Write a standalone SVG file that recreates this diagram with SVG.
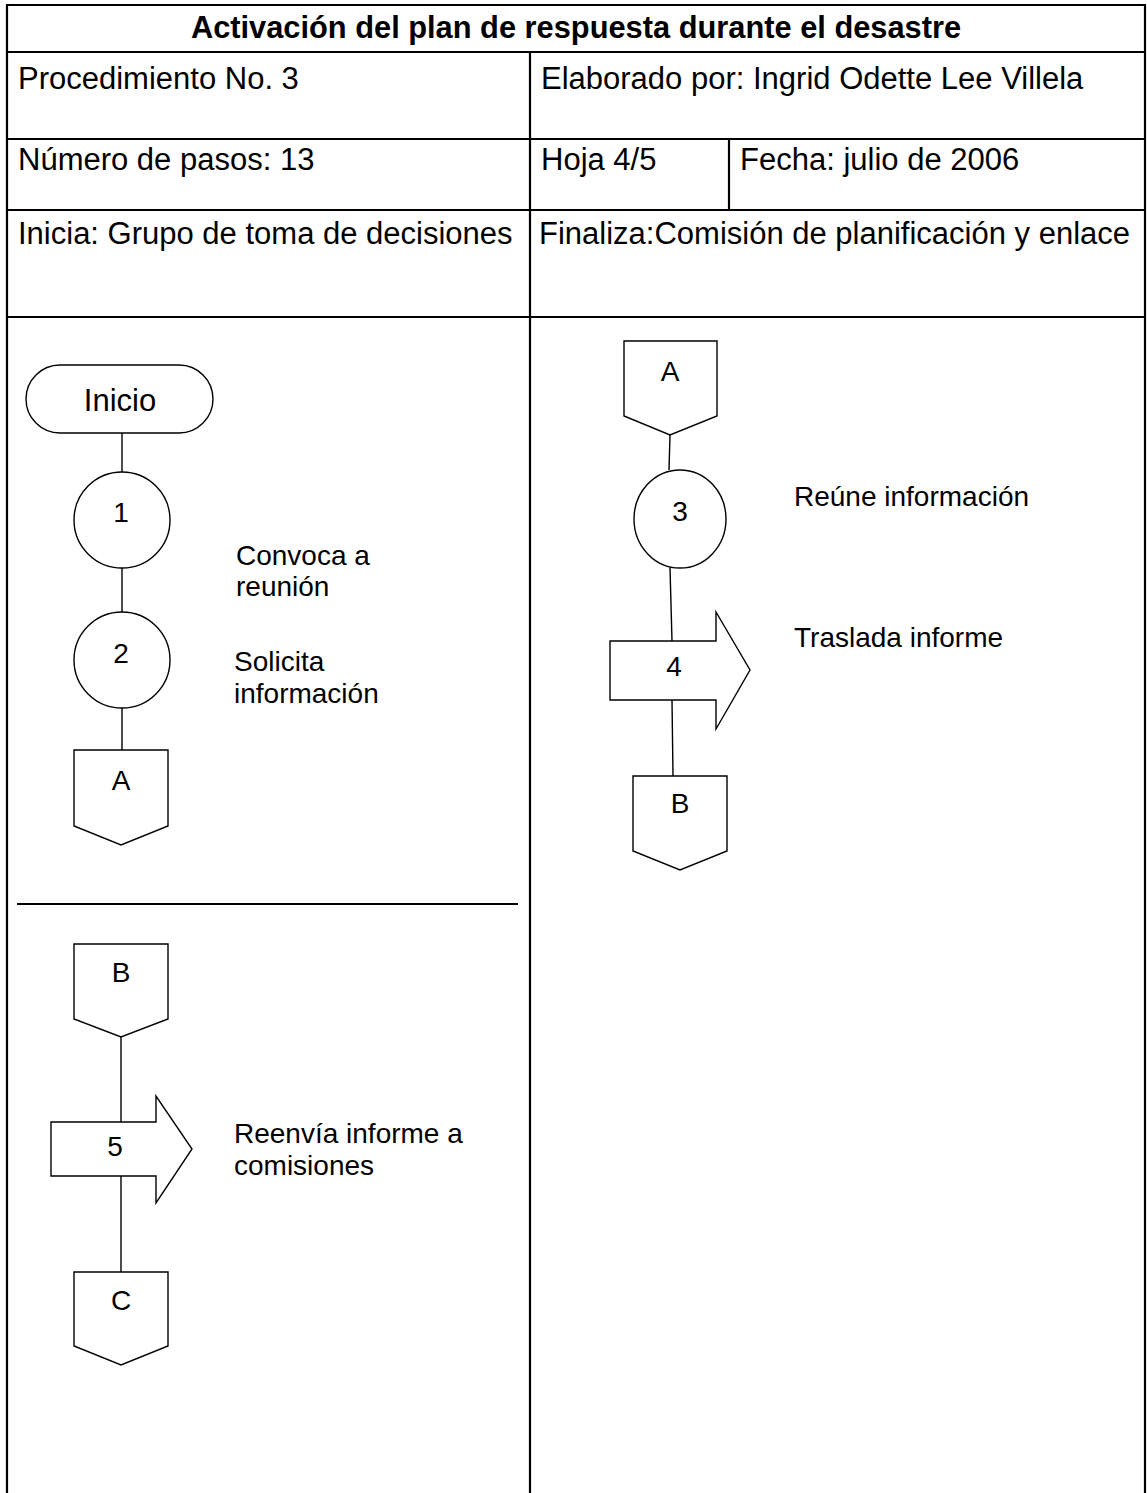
<svg xmlns="http://www.w3.org/2000/svg" width="1147" height="1493" viewBox="0 0 1147 1493">
<style>
.grid{stroke:#000;stroke-width:2.2;fill:none}
.shape{stroke:#000;stroke-width:1.4;fill:#fff}
.conn{stroke:#000;stroke-width:1.4;fill:none}
.hd{font-family:"Liberation Sans",Arial,sans-serif;font-size:31px;fill:#000}
.title{font-family:"Liberation Sans",Arial,sans-serif;font-size:30.8px;font-weight:bold;fill:#000}
.lbl{font-family:"Liberation Sans",Arial,sans-serif;font-size:28px;fill:#000}
.big{font-family:"Liberation Sans",Arial,sans-serif;font-size:31px;fill:#000}
.c{text-anchor:middle}
</style>
<rect width="1147" height="1493" fill="#fff"/>
<g id="table">
<line class="grid" x1="7" y1="5" x2="7" y2="1493"/>
<line class="grid" x1="1145" y1="5" x2="1145" y2="1493"/>
<line class="grid" x1="6" y1="5" x2="1146" y2="5"/>
<line class="grid" x1="6" y1="52" x2="1146" y2="52"/>
<line class="grid" x1="6" y1="139" x2="1146" y2="139"/>
<line class="grid" x1="6" y1="210" x2="1146" y2="210"/>
<line class="grid" x1="6" y1="317" x2="1146" y2="317"/>
<line class="grid" x1="530" y1="52" x2="530" y2="1493"/>
<line class="grid" x1="729" y1="139" x2="729" y2="210"/>
<text class="title c" x="576" y="38">Activación del plan de respuesta durante el desastre</text>
<text class="hd" x="18" y="89">Procedimiento No. 3</text>
<text class="hd" x="541" y="89">Elaborado por: Ingrid Odette Lee Villela</text>
<text class="hd" x="18" y="170">Número de pasos: 13</text>
<text class="hd" x="541" y="170">Hoja 4/5</text>
<text class="hd" x="740" y="170">Fecha: julio de 2006</text>
<text class="hd" x="18" y="244">Inicia: Grupo de toma de decisiones</text>
<text class="hd" x="539" y="244">Finaliza:Comisión de planificación y enlace</text>
<line class="grid" x1="17" y1="904" x2="518" y2="904"/>
</g>
<g id="connectors">
<line class="conn" x1="122" y1="433" x2="122" y2="472"/>
<line class="conn" x1="122" y1="568" x2="122" y2="612"/>
<line class="conn" x1="122" y1="708" x2="122" y2="750"/>
<line class="conn" x1="670" y1="435" x2="669" y2="470"/>
<line class="conn" x1="670" y1="568" x2="672" y2="641"/>
<line class="conn" x1="672" y1="700" x2="673" y2="776"/>
<line class="conn" x1="121" y1="1037" x2="121" y2="1122"/>
<line class="conn" x1="121" y1="1176" x2="121" y2="1272"/>
</g>
<g id="inicio">
<rect class="shape" x="26" y="365" width="187" height="68" rx="34" ry="34"/>
<text class="big c" x="120" y="411">Inicio</text>
</g>
<g id="step1">
<circle class="shape" cx="122" cy="520" r="48"/>
<text class="lbl c" x="121" y="522">1</text>
<text class="lbl" x="236" y="565">Convoca a</text>
<text class="lbl" x="236" y="596">reunión</text>
</g>
<g id="step2">
<circle class="shape" cx="122" cy="660" r="48"/>
<text class="lbl c" x="121" y="663">2</text>
<text class="lbl" x="234" y="671">Solicita</text>
<text class="lbl" x="234" y="703">información</text>
</g>
<g id="connA1">
<polygon class="shape" points="74,750 168,750 168,826 121,845 74,826"/>
<text class="lbl c" x="121" y="790">A</text>
</g>
<g id="connA2">
<polygon class="shape" points="624,341 717,341 717,416 670,435 624,416"/>
<text class="lbl c" x="670" y="381">A</text>
</g>
<g id="step3">
<ellipse class="shape" cx="680" cy="519" rx="46" ry="49"/>
<text class="lbl c" x="680" y="521">3</text>
<text class="lbl" x="794" y="506">Reúne información</text>
</g>
<g id="step4">
<polygon class="shape" points="610,641 716,641 716,612 750,670 716,729 716,700 610,700"/>
<text class="lbl c" x="674" y="676">4</text>
<text class="lbl" x="794" y="647">Traslada informe</text>
</g>
<g id="connB1">
<polygon class="shape" points="633,776 727,776 727,851 680,870 633,851"/>
<text class="lbl c" x="680" y="813">B</text>
</g>
<g id="connB2">
<polygon class="shape" points="74,944 168,944 168,1019 121,1037 74,1019"/>
<text class="lbl c" x="121" y="982">B</text>
</g>
<g id="step5">
<polygon class="shape" points="51,1122 156,1122 156,1096 192,1149 156,1203 156,1176 51,1176"/>
<text class="lbl c" x="115" y="1156">5</text>
<text class="lbl" x="234" y="1143">Reenvía informe a</text>
<text class="lbl" x="234" y="1175">comisiones</text>
</g>
<g id="connC">
<polygon class="shape" points="74,1272 168,1272 168,1346 121,1365 74,1346"/>
<text class="lbl c" x="121" y="1310">C</text>
</g>
</svg>
